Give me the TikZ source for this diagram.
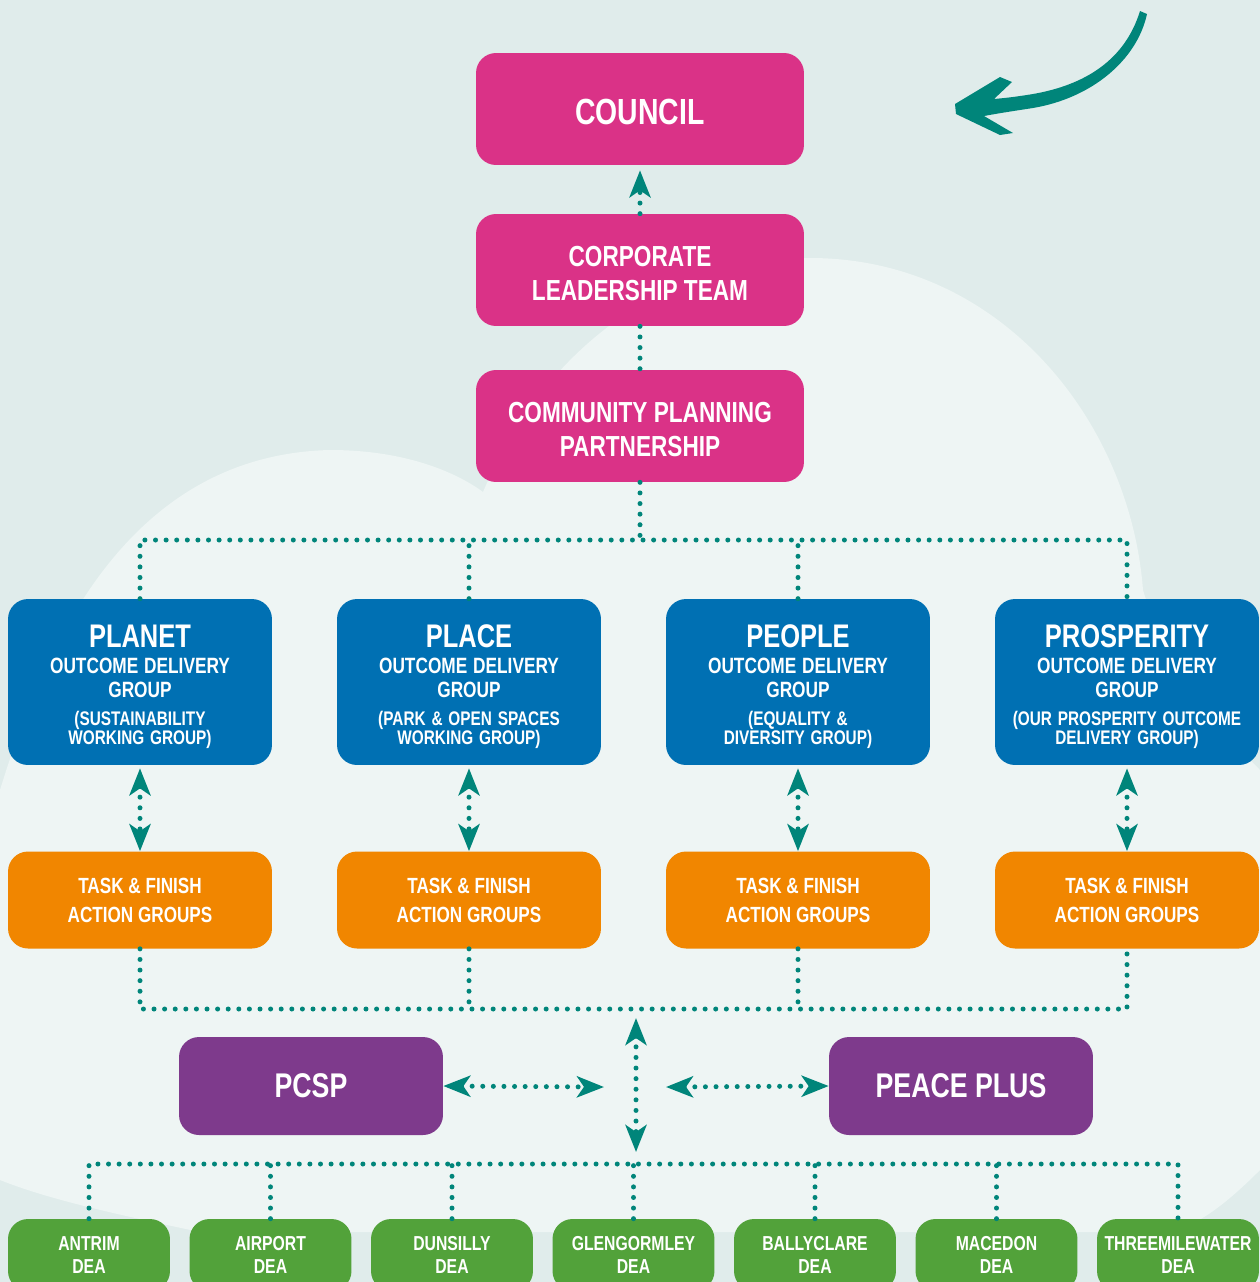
\documentclass[tikz,border=0pt]{standalone}
\usepackage{fontspec}
\setmainfont{Liberation Sans}[FakeStretch=0.78]
\usetikzlibrary{arrows.meta}
\definecolor{pagetint}{HTML}{E0ECEB}
\definecolor{cloudtint}{HTML}{EEF5F4}
\definecolor{boardpink}{HTML}{DA3287}
\definecolor{outcomeblue}{HTML}{0070B3}
\definecolor{taskorange}{HTML}{F18600}
\definecolor{partnerpurple}{HTML}{7E3A8C}
\definecolor{deagreen}{HTML}{52A23A}
\definecolor{linkteal}{HTML}{00857A}

% Title block used by the four outcome delivery groups.
\newcommand{\odgtitle}[2]{%
  {\fontsize{18.6}{18}\selectfont\rule{0pt}{18.4pt}#1\par}%
  {\fontsize{12.6}{15}\selectfont OUTCOME DELIVERY\\[-1.7pt]GROUP\par}%
  \vspace{4.7pt}%
  {\fontsize{11.2}{11.3}\selectfont #2\par}}

\begin{document}
\begin{tikzpicture}[
  x=0.02cm,
  y=-0.02cm,
  line join=round,
  >={Stealth[length=0.54cm,width=0.42cm,inset=0.14cm]},
  orgbox/.style={rounded corners=0.4cm,text=white,align=center,inner sep=0pt,font=\bfseries},
  board/.style={orgbox,fill=boardpink,minimum width=6.56cm,minimum height=2.24cm},
  outcome/.style={orgbox,fill=outcomeblue,minimum width=5.28cm,minimum height=3.32cm,text width=5.2cm},
  taskgroup/.style={orgbox,fill=taskorange,minimum width=5.28cm,minimum height=1.94cm,font=\bfseries\fontsize{12.5}{16.5}\selectfont},
  partner/.style={orgbox,fill=partnerpurple,minimum width=5.28cm,minimum height=1.96cm,font=\bfseries\fontsize{19.5}{22}\selectfont},
  dea/.style={orgbox,fill=deagreen,minimum width=3.24cm,minimum height=1.44cm,font=\bfseries\fontsize{11.5}{13}\selectfont},
  link/.style={draw=linkteal,line width=0.1cm,line cap=round,dash pattern=on 0pt off 0.212cm}
]
  \useasboundingbox (0,0) rectangle (1260,1282);
  \clip (0,0) rectangle (1260,1282);

  % Page tint with the pale cloud behind the chart.
  \fill[pagetint] (0,0) rectangle (1260,1282);
  \fill[cloudtint] (0,790) .. controls (40,660) and (120,455) .. (330,450)
    .. controls (410,450) and (460,475) .. (483,492)
    .. controls (550,335) and (680,258) .. (810,258)
    .. controls (1000,258) and (1130,420) .. (1143,590)
    .. controls (1170,680) and (1230,740) .. (1260,770)
    -- (1260,1170) .. controls (1230,1200) and (1200,1225) .. (1170,1232)
    -- (200,1232) .. controls (120,1215) and (50,1200) .. (0,1180) -- cycle;

  % Brush arrow pointing back at the council.
  \fill[linkteal] (1140,11) .. controls (1125,60) and (1085,85) .. (1033,94)
    .. controls (1015,97) and (1005,98) .. (994,99) -- (1012,82) -- (1000,77)
    -- (955,104) -- (956,114) -- (1000,135) -- (1013,133) -- (984,116)
    .. controls (1000,113) and (1020,110) .. (1033,108)
    .. controls (1092,98) and (1137,60) .. (1147,14) -- cycle;

  % Governance column.
  \node[board,font=\bfseries\fontsize{20.7}{22}\selectfont] (council) at (640,109) {\rule{0pt}{18.2pt}COUNCIL};
  \node[board,font=\bfseries\fontsize{16.5}{19.3}\selectfont] (clt) at (640,270) {\rule{0pt}{16pt}CORPORATE\\LEADERSHIP TEAM};
  \node[board,font=\bfseries\fontsize{16.5}{19.3}\selectfont] (cpp) at (640,426) {\rule{0pt}{16pt}COMMUNITY PLANNING\\PARTNERSHIP};

  % Outcome delivery groups.
  \node[outcome] (planet) at (140,682) {\odgtitle{PLANET}{(SUSTAINABILITY\\WORKING GROUP)}};
  \node[outcome] (place) at (469,682) {\odgtitle{PLACE}{(PARK \& OPEN SPACES\\WORKING GROUP)}};
  \node[outcome] (people) at (798,682) {\odgtitle{PEOPLE}{(EQUALITY \&\\DIVERSITY GROUP)}};
  \node[outcome] (prosperity) at (1127,682) {\odgtitle{PROSPERITY}{(OUR PROSPERITY OUTCOME\\DELIVERY GROUP)}};

  \foreach \n/\x in {planet/140,place/469,people/798,prosperity/1127} {
    \node[taskgroup] (\n-task) at (\x,900) {TASK \& FINISH\\ACTION GROUPS};
  }

  % Partners either side of the central hub.
  \node[partner] (pcsp) at (311,1086) {PCSP};
  \node[partner] (peace) at (961,1086) {PEACE PLUS};

  % District electoral areas along the bottom edge.
  \foreach \n/\lbl [count=\i from 0] in {antrim/ANTRIM,airport/AIRPORT,dunsilly/DUNSILLY,
      glengormley/GLENGORMLEY,ballyclare/BALLYCLARE,macedon/MACEDON,threemilewater/THREEMILEWATER} {
    \node[dea] (\n) at ({89+181.5*\i},1255) {\lbl\\DEA};
  }

  % Junctions of the dotted buses.
  \coordinate (cppbus) at (640,540);
  \coordinate (taskbus) at (636,1009);
  \coordinate (deabus) at (636,1164);
  \coordinate (pcsphub) at (604,1087);
  \coordinate (peacehub) at (666,1087);

  % Dotted reporting lines.
  \draw[link,->,shorten >=0.1cm] (clt.north) -- (council.south);
  \draw[link] (clt.south) -- (cpp.north);
  \draw[link] (cpp.south) -- (cppbus);
  \draw[link] (planet.north) |- (cppbus) -| (prosperity.north);
  \foreach \n in {place,people} {
    \draw[link] (\n.north) -- (\n.north |- cppbus);
  }
  \foreach \n in {planet,place,people,prosperity} {
    \draw[link,<->,shorten <=0.06cm] (\n.south) -- (\n-task.north);
  }
  \draw[link] (planet-task.south) |- (taskbus) -| (prosperity-task.south);
  \foreach \n in {place,people} {
    \draw[link] (\n-task.south) -- (\n-task.south |- taskbus);
  }
  \draw[link,<->,shorten <=0.18cm,shorten >=0.24cm] (taskbus) -- (deabus);
  \draw[link,<->] (pcsp.east) -- (pcsphub);
  \draw[link,<->] (peacehub) -- (peace.west);
  \draw[link] (antrim.north) |- (deabus) -| (threemilewater.north);
  \foreach \n in {airport,dunsilly,glengormley,ballyclare,macedon} {
    \draw[link] (\n.north) -- (\n.north |- deabus);
  }
\end{tikzpicture}
\end{document}
